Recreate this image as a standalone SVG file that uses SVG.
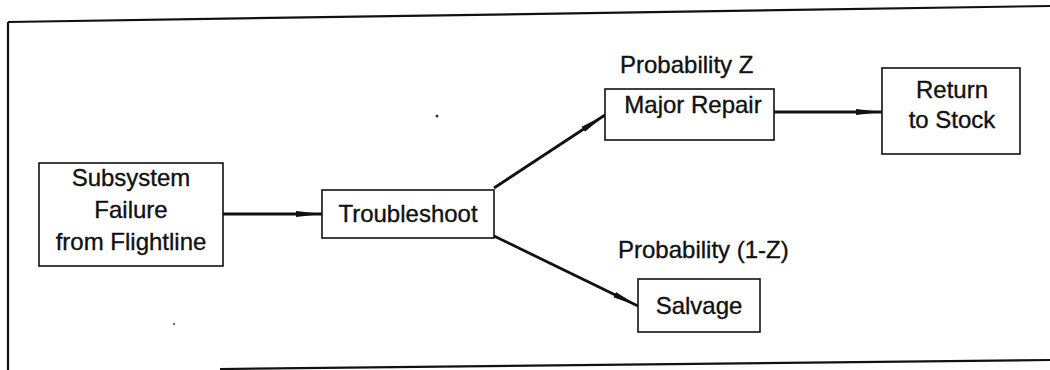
<svg xmlns="http://www.w3.org/2000/svg" width="1050" height="370" viewBox="0 0 1050 370">
<defs>
<style>
.box{fill:#fff;stroke:#111;stroke-width:1.6}
.t{font-family:"Liberation Sans",Arial,sans-serif;font-size:24px;fill:#111;stroke:#111;stroke-width:0.35;text-anchor:middle}
.lbl{font-family:"Liberation Sans",Arial,sans-serif;font-size:24px;fill:#111;stroke:#111;stroke-width:0.35}
.frame{fill:none;stroke:#111;stroke-width:2.2}
.conn{fill:none;stroke:#111;stroke-width:2.8}
</style>
<marker id="ah" viewBox="0 0 26 8" refX="26" refY="4" markerWidth="26" markerHeight="8" markerUnits="userSpaceOnUse" orient="auto">
<path d="M0,1 L26,4 L0,7 z" fill="#111"/>
</marker>
</defs>
<rect width="1050" height="370" fill="#fff"/>
<g id="frame">
<path class="frame" d="M8,22 L1050,6"/>
<path class="frame" d="M8,22 L8,370"/>
<path class="frame" d="M220,369 L1050,360"/>
<circle cx="437" cy="116" r="1.5" fill="#333"/>
<circle cx="174" cy="324" r="1" fill="#333"/>
</g>
<g id="connectors">
<path class="conn" d="M223,214 L322,214" marker-end="url(#ah)"/>
<path class="conn" d="M494,188 L605,115" marker-end="url(#ah)"/>
<path class="conn" d="M494,236 L638,306" marker-end="url(#ah)"/>
<path class="conn" d="M774,112 L882,112" marker-end="url(#ah)"/>
</g>
<g id="node-failure">
<rect class="box" x="39" y="163" width="184" height="103"/>
<text class="t" x="131" y="186">Subsystem</text>
<text class="t" x="131" y="218">Failure</text>
<text class="t" x="131" y="250">from Flightline</text>
</g>
<g id="node-troubleshoot">
<rect class="box" x="322" y="190" width="172" height="48"/>
<text class="t" x="408" y="222">Troubleshoot</text>
</g>
<g id="node-major-repair">
<text class="lbl" x="620" y="73">Probability Z</text>
<rect class="box" x="605" y="89" width="169" height="51"/>
<text class="t" x="693" y="113">Major Repair</text>
</g>
<g id="node-return">
<rect class="box" x="882" y="68" width="138" height="86"/>
<text class="t" x="952" y="98">Return</text>
<text class="t" x="952" y="128">to Stock</text>
</g>
<g id="node-salvage">
<text class="lbl" x="618" y="258">Probability (1-Z)</text>
<rect class="box" x="638" y="279" width="122" height="53"/>
<text class="t" x="699" y="314">Salvage</text>
</g>
</svg>
